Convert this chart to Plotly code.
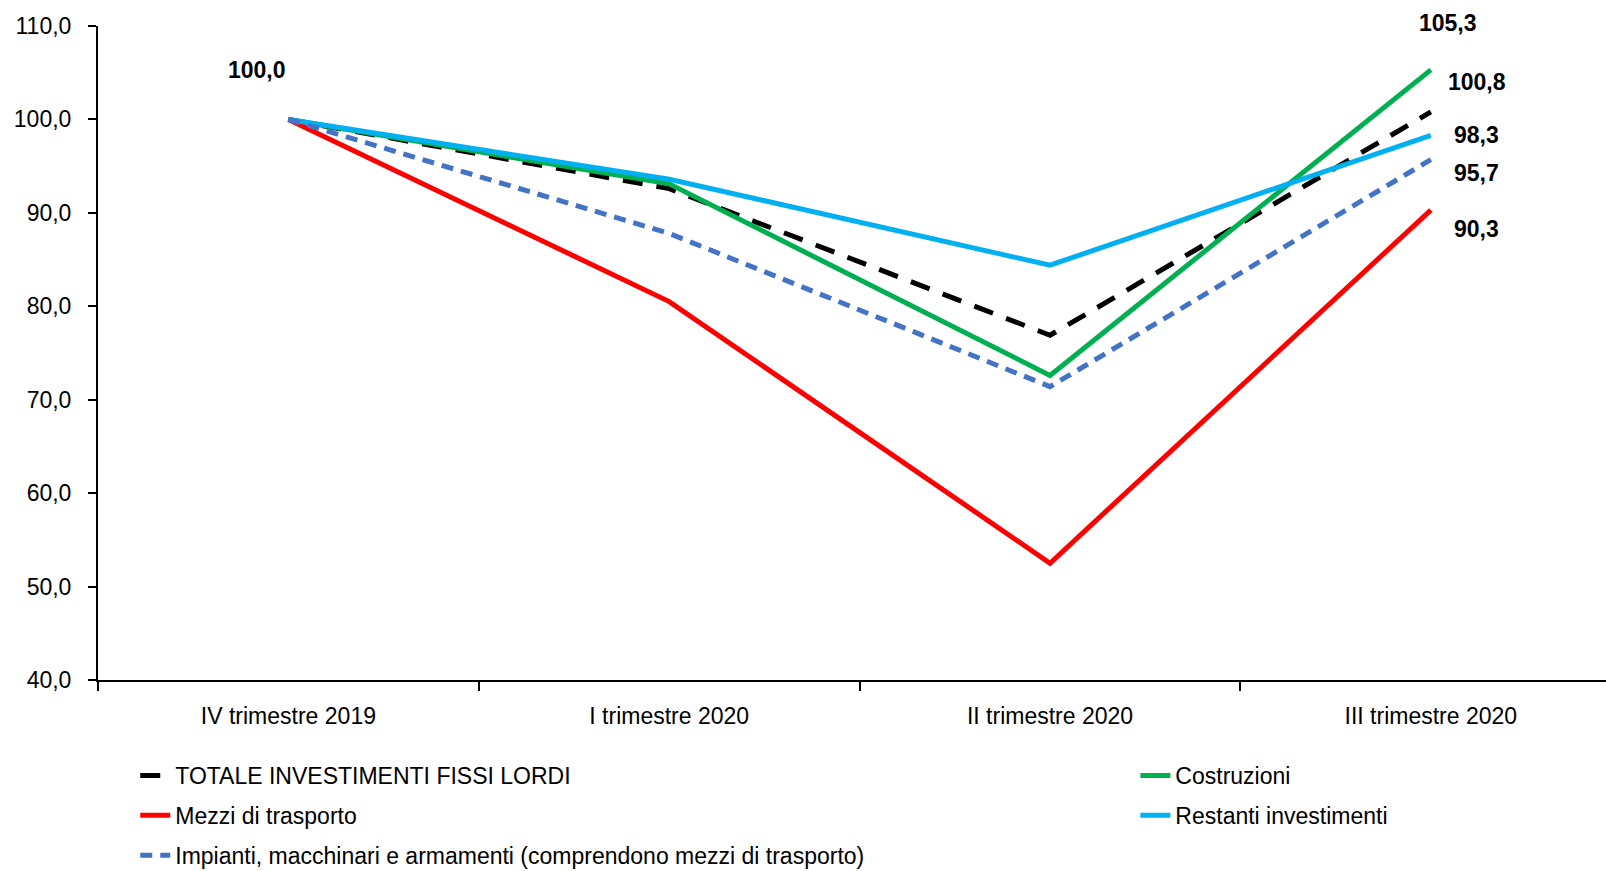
import plotly.graph_objects as go

categories = ["IV trimestre 2019", "I trimestre 2020", "II trimestre 2020", "III trimestre 2020"]
totale = [100.0, 92.6, 76.9, 100.8]
costruzioni = [100.0, 93.1, 72.6, 105.3]
mezzi = [100.0, 80.5, 52.5, 90.3]
restanti = [100.0, 93.6, 84.4, 98.3]
impianti = [100.0, 87.8, 71.4, 95.7]

FONT = "Liberation Sans"
fig = go.Figure()

def add(name, y, color, dash, legend, group, rank):
    fig.add_trace(go.Scatter(
        x=categories, y=y, name=name, mode="lines",
        line=dict(color=color, width=5, dash=dash),
        legend=legend, legendgroup=group, legendrank=rank,
    ))

add("TOTALE INVESTIMENTI FISSI LORDI", totale, "#000000", "20px,14px", "legend", "g1", 1)
add("Costruzioni", costruzioni, "#00B050", "solid", "legend2", "h1", 1)
add("Mezzi di trasporto", mezzi, "#FF0000", "solid", "legend", "g2", 2)
add("Restanti investimenti", restanti, "#00B0F0", "solid", "legend2", "h2", 2)
add("Impianti, macchinari e armamenti (comprendono mezzi di trasporto)", impianti, "#4472C4", "12px,8px", "legend", "g3", 3)

# data labels
labels = [
    (categories[0], totale[0], -31, 49),
    (categories[3], costruzioni[3], 17, 47),
    (categories[3], totale[3], 46, 30),
    (categories[3], restanti[3], 46, 0),
    (categories[3], impianti[3], 46, -13),
    (categories[3], mezzi[3], 46, -19),
]
for x, y, xs, ys in labels:
    fig.add_annotation(x=x, y=y, text=f"{y:.1f}".replace(".", ","), showarrow=False,
                       xshift=xs, yshift=ys,
                       font=dict(family=FONT, size=23, color="black", weight="bold"))

legend_common = dict(xanchor="left", yanchor="top", orientation="v", yref="container",
                     traceorder="grouped", tracegroupgap=7, bgcolor="rgba(0,0,0,0)",
                     font=dict(family=FONT, size=23, color="black"))

fig.update_layout(
    width=1606, height=871,
    margin=dict(l=98, r=0, t=26, b=191),
    paper_bgcolor="white", plot_bgcolor="white",
    separators=",.",
    font=dict(family=FONT, size=23, color="black"),
    legend=dict(x=0.0247, y=0.1343, **legend_common),
    legend2=dict(x=0.6879, y=0.1343, **legend_common),
    xaxis=dict(type="category", range=[-0.5, 3.46], showgrid=False,
               showline=True, linecolor="black", linewidth=2,
               ticks="outside", tickson="boundaries", ticklen=9, tickwidth=2, tickcolor="black",
               ticklabelstandoff=14, tickfont=dict(family=FONT, size=23)),
    yaxis=dict(range=[40, 110], dtick=10, tickformat=".1f", showgrid=False,
               showline=True, linecolor="black", linewidth=2,
               ticks="outside", ticklen=8, tickwidth=2, tickcolor="black",
               ticklabelstandoff=12, tickfont=dict(family=FONT, size=23), zeroline=False),
)

fig.write_html("out.html", config={"displayModeBar": False},
               post_script="document.body.style.margin='0px';document.body.style.overflow='hidden';")
